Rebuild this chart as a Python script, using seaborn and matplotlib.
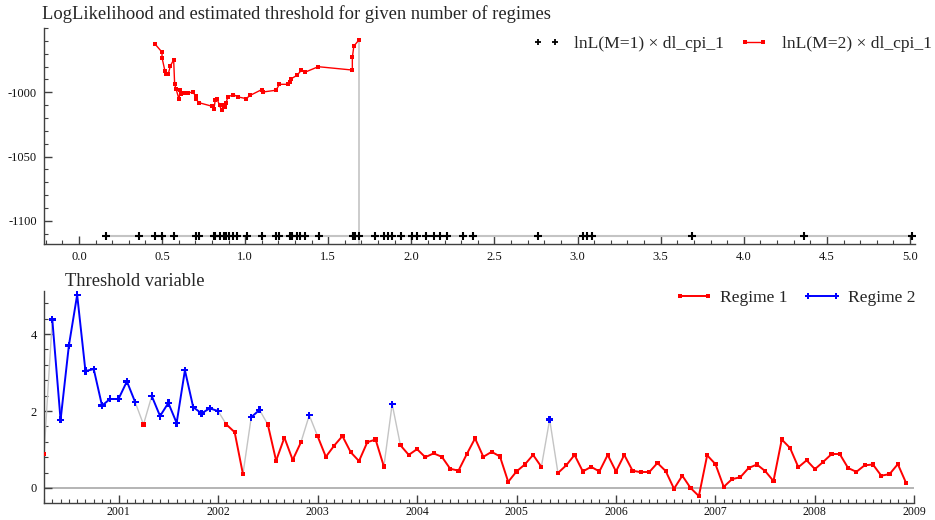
import numpy as np
import pandas as pd
import seaborn as sns
import matplotlib
matplotlib.use("Agg")
import matplotlib.pyplot as plt
from matplotlib.lines import Line2D
from matplotlib.ticker import MultipleLocator, FixedLocator, FormatStrFormatter

# ---- Log-likelihood profile over candidate thresholds ----
lnl1_thresholds = [0.166, 0.362, 0.456, 0.500, 0.570, 0.706, 0.720, 0.810, 0.820,
                   0.846, 0.870, 0.886, 0.902, 0.926, 0.950, 1.010, 1.102, 1.186,
                   1.206, 1.270, 1.282, 1.310, 1.332, 1.362, 1.442, 1.650, 1.658,
                   1.686, 1.782, 1.836, 1.862, 1.886, 1.936, 2.005, 2.035, 2.086,
                   2.136, 2.170, 2.215, 2.310, 2.370, 2.761, 3.035, 3.055, 3.089,
                   3.691, 4.365, 5.009]
lnl1_value = -1111.5

lnl2_thresholds = [0.460, 0.500, 0.500, 0.518, 0.526, 0.538, 0.550, 0.570, 0.576,
                   0.584, 0.602, 0.610, 0.616, 0.626, 0.638, 0.656, 0.686, 0.702,
                   0.706, 0.720, 0.802, 0.812, 0.820, 0.832, 0.846, 0.858, 0.870,
                   0.880, 0.886, 0.896, 0.930, 0.956, 1.006, 1.032, 1.100, 1.106,
                   1.186, 1.206, 1.256, 1.272, 1.278, 1.312, 1.338, 1.362, 1.440,
                   1.645, 1.645, 1.654, 1.686]
lnl2_values = [-962.8, -968.8, -973.1, -983.7, -985.5, -985.5, -979.6, -974.7, -993.8,
               -997.1, -1005.4, -997.9, -1001.0, -1000.5, -1000.5, -1000.5, -999.8, -1002.9,
               -1005.4, -1008.0, -1010.9, -1013.2, -1006.2, -1005.4, -1010.1, -1014.0, -1010.1,
               -1011.4, -1008.0, -1003.6, -1001.8, -1003.6, -1004.9, -1002.3, -997.9, -999.8,
               -998.4, -993.8, -993.8, -992.0, -989.4, -986.8, -982.9, -984.3, -980.1,
               -982.7, -972.9, -964.1, -959.1]

# ---- Threshold variable, monthly from 2000(4) to 2008(12) ----
dl_cpi_1 = [0.88, 4.38, 1.77, 3.70, 5.02, 3.04, 3.09, 2.14, 2.32, 2.32, 2.77, 2.23,
            1.65, 2.39, 1.87, 2.21, 1.69, 3.06, 2.10, 1.94, 2.07, 2.00, 1.65, 1.45,
            0.36, 1.84, 2.03, 1.65, 0.71, 1.31, 0.73, 1.19, 1.89, 1.35, 0.81, 1.10,
            1.35, 0.93, 0.70, 1.19, 1.26, 0.56, 2.18, 1.11, 0.86, 1.01, 0.80, 0.90,
            0.81, 0.50, 0.45, 0.88, 1.29, 0.81, 0.94, 0.82, 0.16, 0.43, 0.61, 0.86,
            0.55, 1.78, 0.39, 0.59, 0.86, 0.43, 0.55, 0.43, 0.86, 0.43, 0.86, 0.45,
            0.41, 0.41, 0.65, 0.44, -0.02, 0.32, 0.00, -0.21, 0.85, 0.62, 0.03, 0.23,
            0.28, 0.52, 0.61, 0.44, 0.18, 1.26, 1.04, 0.54, 0.72, 0.49, 0.68, 0.88,
            0.88, 0.52, 0.42, 0.59, 0.61, 0.32, 0.36, 0.62, 0.13]
first_month_offset = 9          # months from the first observation to January 2001
year_labels = ["2001", "2002", "2003", "2004", "2005", "2006", "2007", "2008", "2009"]

RED = "#ff0000"
BLUE = "#0000ff"
GREY = "#c4c4c4"
AXIS = "#404040"

sns.set_style("ticks")
plt.rcParams["font.family"] = ["Liberation Serif", "DejaVu Serif"]
plt.rcParams["axes.unicode_minus"] = False
plt.rcParams["axes.edgecolor"] = AXIS
plt.rcParams["xtick.color"] = AXIS
plt.rcParams["ytick.color"] = AXIS
plt.rcParams["xtick.labelcolor"] = "#111111"
plt.rcParams["ytick.labelcolor"] = "#111111"

W, H = 935, 520
fig = plt.figure(figsize=(W / 100, H / 100), dpi=100)
ax1 = fig.add_axes([44 / W, 1 - 244 / H, (915 - 44) / W, (244 - 28) / H])
ax2 = fig.add_axes([44 / W, 1 - 503 / H, (914.4 - 44) / W, (503 - 291) / H])

# ================= top panel =================
m1 = pd.DataFrame({"threshold": lnl1_thresholds,
                   "lnL": [lnl1_value] * len(lnl1_thresholds)})
m2 = pd.DataFrame({"threshold": lnl2_thresholds, "lnL": lnl2_values})
best = m2.loc[m2["lnL"].idxmax()]
y1_lo, y1_hi = -1118, -950

sns.lineplot(data=m1, x="threshold", y="lnL", color=GREY, linewidth=1.5,
             estimator=None, sort=False, ax=ax1, zorder=1)
ax1.plot([best["threshold"], best["threshold"]], [y1_lo, best["lnL"]],
         color=GREY, linewidth=1.2, zorder=1)
sns.scatterplot(data=m1, x="threshold", y="lnL", marker="+", color="black",
                s=30, linewidth=1.5, ax=ax1, zorder=3)
sns.lineplot(data=m2, x="threshold", y="lnL", color=RED, linewidth=1.0,
             marker="s", markersize=3, markeredgewidth=0, estimator=None,
             sort=False, ax=ax1, zorder=4)

ax1.set_xlim(-0.21, 5.03)
ax1.set_ylim(y1_lo, y1_hi)
ax1.xaxis.set_major_locator(MultipleLocator(0.5))
ax1.xaxis.set_minor_locator(MultipleLocator(0.1))
ax1.xaxis.set_major_formatter(FormatStrFormatter("%.1f"))
ax1.yaxis.set_major_locator(FixedLocator([-1100, -1050, -1000]))
ax1.yaxis.set_minor_locator(MultipleLocator(10))

fig.text(42 / W, 1 - 14 / H,
         "LogLikelihood and estimated threshold for given number of regimes",
         fontsize=13.3, va="center", ha="left")

h_m1 = Line2D([], [], color="black", marker="+", linestyle="None",
              markersize=5, markeredgewidth=1.3)
h_m2 = Line2D([], [], color=RED, marker="s", markersize=3,
              markeredgewidth=0, linewidth=1.0)
fig.legend([h_m1, h_m2], ["lnL(M=1) × dl_cpi_1", "lnL(M=2) × dl_cpi_1"],
           loc="center right", bbox_to_anchor=(932 / W, 1 - 44 / H), ncol=2,
           frameon=False, numpoints=2, handlelength=1.6, fontsize=12.6,
           columnspacing=0.9, handletextpad=0.8, borderaxespad=0, borderpad=0)

# ================= bottom panel =================
threshold = float(best["threshold"])
ts = pd.DataFrame({"t": np.arange(len(dl_cpi_1)), "v": dl_cpi_1})
ts["regime"] = np.where(ts["v"] >= threshold, 2, 1)

rows = []
for i in range(len(ts) - 1):
    r_a, r_b = ts["regime"].iat[i], ts["regime"].iat[i + 1]
    kind = "r1" if (r_a == 1 and r_b == 1) else ("r2" if (r_a == 2 and r_b == 2) else "switch")
    for j in (i, i + 1):
        rows.append({"seg": i, "t": ts["t"].iat[j], "v": ts["v"].iat[j], "kind": kind})
segs = pd.DataFrame(rows)

ax2.axhline(0, color="#a8a8a8", linewidth=1.2, zorder=0)
sns.lineplot(data=segs[segs["kind"] == "switch"], x="t", y="v", units="seg",
             estimator=None, sort=False, color=GREY, linewidth=1.0, ax=ax2, zorder=1)
sns.lineplot(data=segs[segs["kind"] != "switch"], x="t", y="v", units="seg",
             hue="kind", palette={"r1": RED, "r2": BLUE}, estimator=None,
             sort=False, linewidth=1.4, legend=False, ax=ax2, zorder=2)
sns.scatterplot(data=ts, x="t", y="v", hue="regime", style="regime", size="regime",
                palette={1: RED, 2: BLUE}, markers={1: "s", 2: "P"},
                sizes={1: 9, 2: 26}, linewidth=0, legend=False, ax=ax2, zorder=3)

n_years = len(year_labels)
year_pos = [first_month_offset + 12 * k for k in range(n_years)]
ax2.set_xlim(0, year_pos[-1])
ax2.set_ylim(-0.39, 5.12)
ax2.xaxis.set_major_locator(FixedLocator(year_pos))
ax2.set_xticklabels(year_labels)
ax2.xaxis.set_minor_locator(MultipleLocator(1))
ax2.yaxis.set_major_locator(FixedLocator([0, 2, 4]))
ax2.yaxis.set_minor_locator(MultipleLocator(0.4))

fig.text(65 / W, 1 - 281 / H, "Threshold variable", fontsize=13.3,
         va="center", ha="left")

h_r1 = Line2D([], [], color=RED, marker="s", markersize=3, markeredgewidth=0,
              linewidth=1.4)
h_r2 = Line2D([], [], color=BLUE, marker="P", markersize=5, markeredgewidth=0,
              linewidth=1.4)
fig.legend([h_r1, h_r2], ["Regime 1", "Regime 2"], loc="center right",
           bbox_to_anchor=(915 / W, 1 - 298 / H), ncol=2, frameon=False,
           numpoints=2, handlelength=2.2, fontsize=12.6, columnspacing=0.9,
           handletextpad=0.35, borderaxespad=0, borderpad=0)

# ---- shared axis styling ----
for ax in (ax1, ax2):
    ax.set_xlabel("")
    ax.set_ylabel("")
    for side in ("top", "right"):
        ax.spines[side].set_visible(False)
    for side in ("left", "bottom"):
        ax.spines[side].set_linewidth(1.0)
    ax.tick_params(which="both", direction="in", top=False, right=False,
                   labelsize=9)
    ax.tick_params(which="major", length=6, width=1.0, pad=5)
    ax.tick_params(which="minor", length=3, width=0.8)
ax2.tick_params(axis="x", which="major", pad=2, labelsize=8.5)

fig.savefig("out.png", dpi=100)
